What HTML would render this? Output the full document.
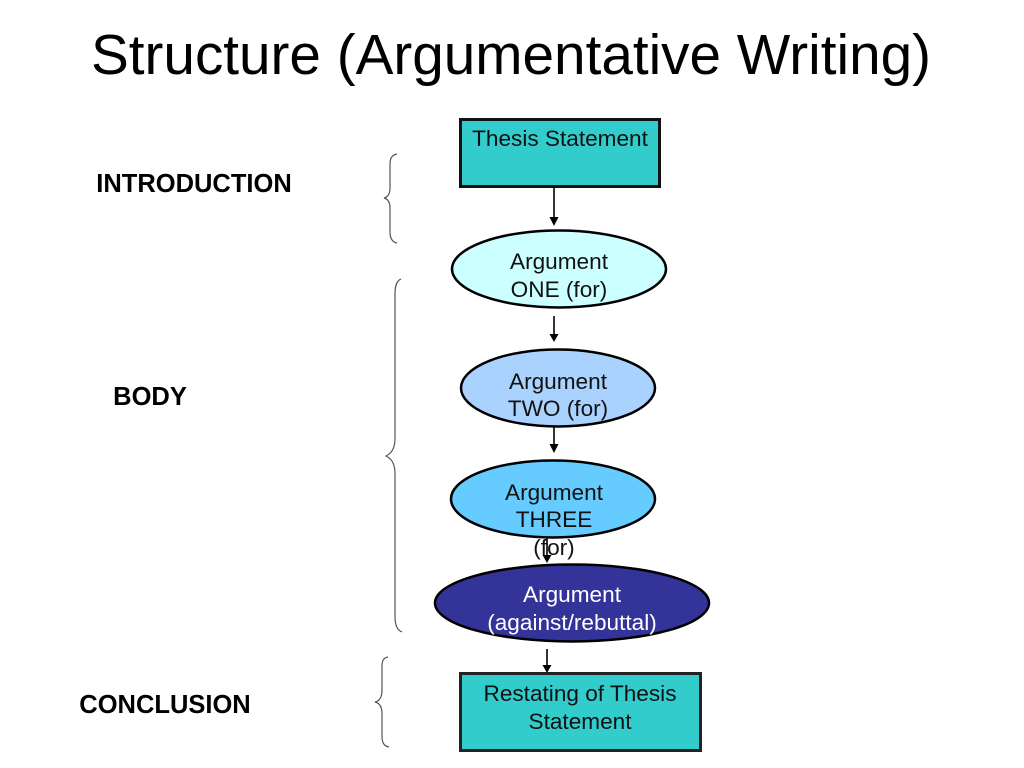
<!DOCTYPE html>
<html><head><meta charset="utf-8"><style>html,body{margin:0;padding:0;background:#fff}svg{display:block}text{font-family:"Liberation Sans",sans-serif}</style></head><body>
<svg width="1024" height="768" viewBox="0 0 1024 768" xmlns="http://www.w3.org/2000/svg">
<text x="511" y="74" font-size="57" text-anchor="middle" fill="#000" textLength="840" lengthAdjust="spacingAndGlyphs">Structure (Argumentative Writing)</text>
<g font-size="25.500" font-weight="bold" fill="#000">
<text x="194" y="192" text-anchor="middle">INTRODUCTION</text>
<text x="150" y="405" text-anchor="middle">BODY</text>
<text x="165" y="713" text-anchor="middle">CONCLUSION</text>
</g>
<g fill="none" stroke="#555" stroke-width="1.200">
<path d="M397 154C392 155 390 158 390 164V188C390 194 388 197 384 198C388 199 390 202 390 208V232C390 238 392 242 397 243"/>
<path d="M401 279C396 281 395 287 395 294V438C395 448 392 453 386 456C392 459 395 464 395 474V616C395 625 397 630 402 632"/>
<path d="M388 657C383 658 382 661 382 667V690C382 697 380 701 375 702C380 703 382 707 382 714V736C382 743 384 746 389 747"/>
</g>
<rect x="460.500" y="119.500" width="199" height="67" fill="#33cccc" stroke="#111" stroke-width="3"/>
<rect x="460.500" y="673.500" width="240" height="77" fill="#33cccc" stroke="#222" stroke-width="3"/>
<ellipse cx="559" cy="269" rx="107" ry="38.500" fill="#ccffff" stroke="#000" stroke-width="2.500"/>
<ellipse cx="558" cy="388" rx="97" ry="38.500" fill="#aad2ff" stroke="#000" stroke-width="2.500"/>
<ellipse cx="553" cy="499" rx="102" ry="38.500" fill="#66ccff" stroke="#000" stroke-width="2.500"/>
<ellipse cx="572" cy="603" rx="137" ry="38.500" fill="#333399" stroke="#000" stroke-width="2.500"/>
<g font-size="22.600" text-anchor="middle" fill="#111">
<text x="560" y="146">Thesis Statement</text>
<text x="559" y="269">Argument</text><text x="559" y="297">ONE (for)</text>
<text x="558" y="389">Argument</text><text x="558" y="416">TWO (for)</text>
<text x="554" y="500">Argument</text><text x="554" y="527">THREE</text><text x="554" y="555">(for)</text>
<text x="580" y="701">Restating of Thesis</text><text x="580" y="729">Statement</text>
<text x="572" y="602" fill="#fff">Argument</text><text x="572" y="630" fill="#fff">(against/rebuttal)</text>
</g>
<g stroke="#000" stroke-width="1.600" fill="#000">
<path d="M554 187V218" fill="none"/><path d="M549.500 217H558.500L554 226Z" stroke="none"/>
<path d="M554 316V335" fill="none"/><path d="M549.500 334H558.500L554 342Z" stroke="none"/>
<path d="M554 427V445" fill="none"/><path d="M549.500 444H558.500L554 453Z" stroke="none"/>
<path d="M547 538V556" fill="none"/><path d="M542.500 555H551.500L547 563Z" stroke="none"/>
<path d="M547 649V666" fill="none"/><path d="M542.500 665H551.500L547 673Z" stroke="none"/>
</g>
</svg>
</body></html>
